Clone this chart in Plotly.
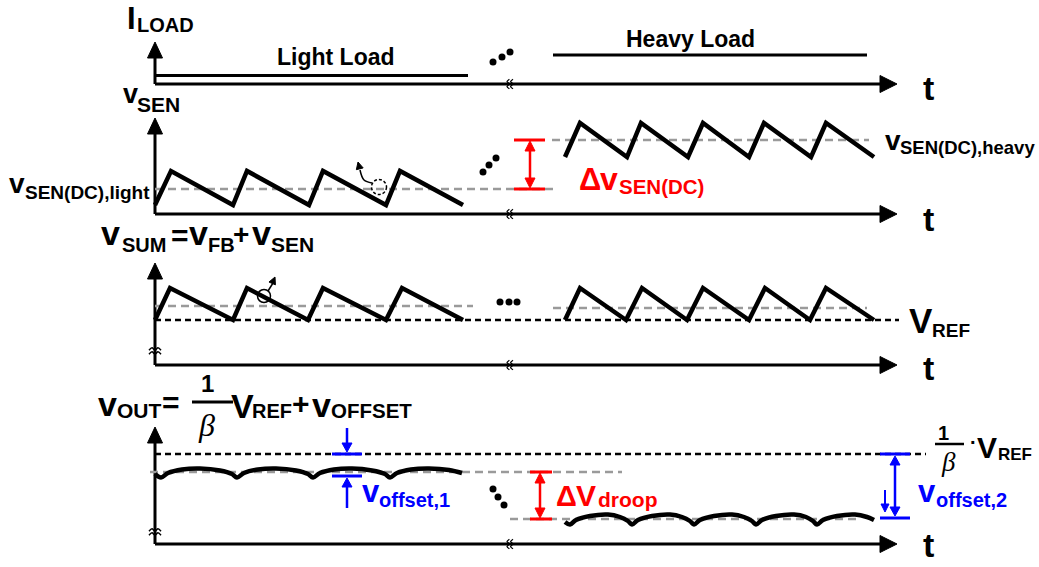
import plotly.graph_objects as go

W, H = 1039, 567
FONT = "Liberation Sans"
SERIF = "Liberation Serif"
BLACK = "#000000"
GRAY = "#9a9a9a"
RED = "#ff0000"
BLUE = "#0000ff"

# ---------------- data (time axis t, signal levels in drawing units) ----------------
# Panel 1: load current levels
i_light_t = [155, 468]
i_light_v = [75.5, 75.5]
i_heavy_t = [553, 867]
i_heavy_v = [55, 55]

# Panel 2: v_SEN sawtooth
sen_light_t = [155, 171, 233, 247, 309, 323, 386, 400, 463]
sen_light_v = [205, 171, 205, 171, 205, 171, 205, 171, 205]
sen_heavy_t = [565, 580, 627, 641, 688, 703, 749, 764, 811, 826, 874]
sen_heavy_v = [157, 123, 157, 123, 157, 123, 157, 123, 157, 123, 157]
sen_dc_light_t, sen_dc_light_v = [155, 555], [189, 189]
sen_dc_heavy_t, sen_dc_heavy_v = [552, 869], [140, 140]

# Panel 3: v_SUM sawtooth
sum_light_t = [155, 170, 233, 247, 308, 323, 386, 402, 463]
sum_light_v = [320, 288, 320, 288, 320, 288, 320, 288, 320]
sum_heavy_t = [565, 580, 626, 642, 687, 703, 749, 765, 810, 826, 874]
sum_heavy_v = [320, 288, 320, 288, 320, 288, 320, 288, 320, 288, 320]
sum_avg_light_t, sum_avg_light_v = [155, 473], [306, 306]
sum_avg_heavy_t, sum_avg_heavy_v = [553, 867], [308, 308]
vref_t, vref_v = [155, 899], [320, 320]

# Panel 4: v_OUT ripple
out_light_t = [155, 161, 168, 182, 200, 220, 232, 237, 244, 258, 276, 296, 308, 313, 320,
               334, 352, 372, 385, 390, 397, 411, 429, 449, 462]
out_light_v = [474, 477.5, 473, 469.5, 468.5, 470.5, 474, 477.5, 473, 469.5, 468.5, 470.5, 474, 477.5, 473,
               469.5, 468.5, 470.5, 474, 477.5, 473, 469.5, 468.5, 470, 473]
out_heavy_t = [565, 570, 576, 590, 608, 620, 628, 632, 638, 652, 670, 682, 690, 694, 700,
               714, 732, 744, 752, 756, 762, 776, 794, 806, 813, 817, 823, 837, 855, 867, 874]
out_heavy_v = [522, 524.5, 520, 516, 514.5, 517, 521, 524.5, 520, 516, 514.5, 517, 521, 524.5, 520,
               516, 514.5, 517, 521, 524.5, 520, 516, 514.5, 517, 521, 524.5, 520, 516, 514.5, 517, 520]
out_target_t, out_target_v = [155, 926], [454, 454]
out_dc_light_t, out_dc_light_v = [150, 622], [472, 472]
out_dc_heavy_t, out_dc_heavy_v = [510, 860], [519, 519]

# ellipsis dots
dots_p1 = ([493, 502, 510], [62, 57, 52])
dots_p2 = ([483, 489, 496], [172, 165, 158])
dots_p3 = ([500, 509, 517], [302, 302, 302])
dots_p4 = ([493, 498, 504], [489, 497, 505])

# axis-break squiggle (offsets from the break point)
squig_a = [-6, -3, 0, 3, 6]
squig_b = [1.2, -1.2, 1.2, -1.2, 1.2]

fig = go.Figure()


def line(xs, ys, color=BLACK, width=3, dash=None, spline=False):
    ln = dict(color=color, width=width)
    if dash:
        ln["dash"] = dash
    if spline:
        ln["shape"] = "spline"
        ln["smoothing"] = 1.0
    fig.add_trace(go.Scatter(x=xs, y=ys, mode="lines", line=ln,
                             hoverinfo="skip", showlegend=False))


def head(tip, direction, length=16, half=7, color=BLACK):
    tx, ty = tip
    dx, dy = direction
    bx, by = tx - dx * length, ty - dy * length
    px, py = -dy, dx
    xs = [tx, bx + px * half, bx - px * half, tx]
    ys = [ty, by + py * half, by - py * half, ty]
    fig.add_trace(go.Scatter(x=xs, y=ys, mode="lines", fill="toself", fillcolor=color,
                             line=dict(color=color, width=1), hoverinfo="skip", showlegend=False))


def v_axis(x, y_bottom, y_tip):
    line([x, x], [y_bottom, y_tip + 12], width=3)
    head((x, y_tip), (0, -1), 16, 7.5)


def h_axis(y, x_left, x_tip):
    line([x_left, x_tip - 12], [y, y], width=3)
    head((x_tip, y), (1, 0), 17, 8.5)


def dots(d):
    fig.add_trace(go.Scatter(x=d[0], y=d[1], mode="markers",
                             marker=dict(size=7, color=BLACK), hoverinfo="skip", showlegend=False))


def txt(s, x, base, size, color=BLACK, anchor="left", family=FONT, weight="bold", angle=0,
        center=None):
    yc = center if center is not None else base - 0.3465 * size
    fig.add_annotation(x=x, y=yc, xref="x", yref="y", text=s,
                       showarrow=False, xanchor=anchor, yanchor="middle", textangle=angle,
                       font=dict(family=family, size=size, color=color, weight=weight),
                       borderpad=0, borderwidth=0)


# ---------------- axes ----------------
for (yb, yt) in [(84, 42), (214, 118), (365, 263), (544, 427)]:
    v_axis(155, yb, yt)
    h_axis(yb, 155, 897)

# ---------------- panel 1 ----------------
line(i_light_t, i_light_v, width=3)
line(i_heavy_t, i_heavy_v, width=3)
dots(dots_p1)

# ---------------- panel 2 ----------------
line(sen_dc_light_t, sen_dc_light_v, color=GRAY, width=2.5, dash="8px,5px")
line(sen_dc_heavy_t, sen_dc_heavy_v, color=GRAY, width=2.5, dash="8px,5px")
line(sen_light_t, sen_light_v, width=4.5)
line(sen_heavy_t, sen_heavy_v, width=4.5)
dots(dots_p2)
# red delta
line([514, 545], [140, 140], color=RED, width=3)
line([514, 545], [189, 189], color=RED, width=3)
line([530, 530], [148, 181], color=RED, width=2.5)
head((530, 141), (0, -1), 10, 5, RED)
head((530, 188), (0, 1), 10, 5, RED)
# dashed circle + curved arrow
fig.add_shape(type="circle", xref="x", yref="y", x0=371.5, x1=386.5, y0=179.5, y1=194.5,
              line=dict(color=BLACK, width=1.5, dash="3px,2px"))
line([372, 364, 360], [183, 180, 170], width=1.5, spline=True)
head((358, 162), (-0.25, -0.97), 7, 3.5)

# ---------------- panel 3 ----------------
line(vref_t, vref_v, width=2.5, dash="6px,4px")
line(sum_avg_light_t, sum_avg_light_v, color=GRAY, width=2.5, dash="8px,5px")
line(sum_avg_heavy_t, sum_avg_heavy_v, color=GRAY, width=2.5, dash="8px,5px")
line(sum_light_t, sum_light_v, width=4.5)
line(sum_heavy_t, sum_heavy_v, width=4.5)
dots(dots_p3)
fig.add_shape(type="circle", xref="x", yref="y", x0=257.5, x1=270.5, y0=289.5, y1=302.5,
              line=dict(color=BLACK, width=1.5))
line([268, 273], [291, 283], width=1.5)
head((275, 277), (0.4, -0.92), 7, 3.5)

# ---------------- panel 4 ----------------
line(out_target_t, out_target_v, width=2.5, dash="6px,4px")
line(out_dc_light_t, out_dc_light_v, color=GRAY, width=2.5, dash="8px,5px")
line(out_dc_heavy_t, out_dc_heavy_v, color=GRAY, width=2.5, dash="8px,5px")
line(out_light_t, out_light_v, width=4.5, spline=True)
line(out_heavy_t, out_heavy_v, width=4.5, spline=True)
dots(dots_p4)
# red droop
line([530, 552], [472, 472], color=RED, width=3)
line([530, 552], [519, 519], color=RED, width=3)
line([540, 540], [480, 511], color=RED, width=2.5)
head((540, 473), (0, -1), 10, 5, RED)
head((540, 518), (0, 1), 10, 5, RED)
# blue offset 1
line([332, 362], [454, 454], color=BLUE, width=3)
line([332, 362], [476, 476], color=BLUE, width=3)
line([347, 347], [428, 446], color=BLUE, width=2.5)
head((347, 452), (0, 1), 9, 5, BLUE)
line([347, 347], [486, 508], color=BLUE, width=2.5)
head((347, 478), (0, -1), 9, 5, BLUE)
# blue offset 2
line([880, 910], [454, 454], color=BLUE, width=3)
line([880, 910], [518, 518], color=BLUE, width=3)
line([895, 895], [463, 509], color=BLUE, width=2.5)
head((895, 456), (0, -1), 9, 5, BLUE)
head((895, 516), (0, 1), 9, 5, BLUE)
line([885, 885], [490, 504], color=BLUE, width=2)
head((885, 512), (0, 1), 8, 4, BLUE)
# fraction bars
line([192, 233], [402, 402], width=3)
line([935, 964], [444, 444], width=2.5)

# ---------------- axis break marks ----------------
for yb in [84, 214, 365, 544]:
    for dx in (-1.8, 1.8):
        line([510 + dx + b for b in squig_b], [yb + a * 0.8 for a in squig_a],
             width=1.3, spline=True)
for yb in [351, 532]:
    for dy in (-2, 2):
        line([155 + a for a in squig_a], [yb + dy + b for b in squig_b],
             width=1.5, spline=True)

# ---------------- labels ----------------
# panel 1
txt("I", 127, 29, 31)
txt("LOAD", 137, 32, 20)
txt("Light Load", 336, 65, 23, anchor="center")
txt("Heavy Load", 690, 47, 23, anchor="center")
for base in [100, 231, 380, 557]:
    txt("t", 928, base, 34, anchor="center")

# panel 2
txt("v", 123, 103, 27)
txt("SEN", 137, 112, 21)
txt("v", 9, 193, 28)
txt("SEN(DC),light", 25, 199, 19)
txt("v", 885, 150, 28)
txt("SEN(DC),heavy", 900, 154, 18.5)
txt("Δ", 579, 190, 31, color=RED)
txt("v", 600, 190, 32, color=RED)
txt("SEN(DC)", 619, 194, 20.5, color=RED)

# panel 3
txt("v", 101, 245, 34)
txt("SUM", 122, 252, 20)
txt("=", 171, 246, 30)
txt("v", 189, 245, 34)
txt("FB", 208, 252, 20)
txt("+", 233, 244, 28)
txt("v", 252, 245, 34)
txt("SEN", 271, 252, 21)
txt("V", 909, 333, 35)
txt("REF", 932, 337, 19)

# panel 4
txt("v", 98, 416, 34)
txt("OUT", 117, 418, 21)
txt("=", 162, 413, 30)
txt("1", 207, 392, 24, anchor="center")
txt("<i>β</i>", 206, 436, 32, family=SERIF, anchor="center", weight="normal")
txt("V", 231, 418, 34)
txt("REF", 252, 418, 20)
txt("+", 292, 414, 30)
txt("v", 312, 417, 34)
txt("OFFSET", 331, 418, 20.5)

txt("Δ", 556, 506, 29, color=RED)
txt("V", 576, 506, 30, color=RED)
txt("droop", 598, 507, 21, color=RED)

txt("v", 362, 502, 31, color=BLUE)
txt("offset,1", 379, 507, 20, color=BLUE)
txt("v", 918, 502, 31, color=BLUE)
txt("offset,2", 936, 507, 20, color=BLUE)

txt("1", 943, 440, 20, anchor="center")
txt("<i>β</i>", 948, 471, 27, family=SERIF, anchor="center", weight="normal")
txt("·", 973, 449, 20, anchor="center")
txt("V", 977, 458, 30)
txt("REF", 998, 460, 17)

fig.update_layout(
    width=W, height=H,
    margin=dict(l=0, r=0, t=0, b=0),
    paper_bgcolor="white", plot_bgcolor="white",
    xaxis=dict(range=[0, W], visible=False, fixedrange=True),
    yaxis=dict(range=[H, 0], visible=False, fixedrange=True),
    showlegend=False,
)

fig.write_html("out.html")
